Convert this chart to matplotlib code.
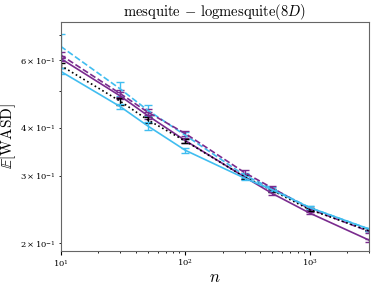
import matplotlib
matplotlib.use("Agg")
import matplotlib.pyplot as plt

plt.rcParams['font.family'] = 'serif'
plt.rcParams['font.serif'] = ['DejaVu Serif']
plt.rcParams['mathtext.fontset'] = 'cm'

n = [10, 30, 50, 100, 300, 500, 1000, 3000]

cyan_dashed = [0.653, 0.506, 0.445, 0.383, 0.301, 0.278, 0.248, 0.218]
cyan_dashed_err = [0.05, 0.02, 0.014, 0.008, 0.004, 0.003, 0.002, 0.002]
purple_dashed = [0.620, 0.492, 0.440, 0.387, 0.306, 0.279, 0.246, 0.215]
purple_dashed_err = [0.012, 0.010, 0.008, 0.006, 0.004, 0.003, 0.002, 0.002]
purple_solid = [0.607, 0.485, 0.431, 0.371, 0.298, 0.270, 0.240, 0.204]
purple_solid_err = [0.010, 0.010, 0.008, 0.006, 0.003, 0.003, 0.002, 0.002]
black_dotted = [0.582, 0.470, 0.420, 0.370, 0.298, 0.275, 0.245, 0.216]
black_dotted_err = [0.008, 0.010, 0.008, 0.005, 0.003, 0.002, 0.002, 0.001]
cyan_solid = [0.562, 0.455, 0.405, 0.350, 0.296, 0.276, 0.248, 0.218]
cyan_solid_err = [0.010, 0.008, 0.010, 0.005, 0.003, 0.002, 0.002, 0.002]

cyan = '#40bdf0'
purple = '#7a2b8e'

fig = plt.figure(figsize=(3.74, 2.87), dpi=100)
ax = fig.add_axes([0.162, 0.125, 0.825, 0.798])

kw = dict(capsize=3, elinewidth=1, lw=1.2)
ax.errorbar(n, cyan_dashed, yerr=cyan_dashed_err, color=cyan, ls='--', **kw)
ax.errorbar(n, purple_dashed, yerr=purple_dashed_err, color=purple, ls='--', **kw)
ax.errorbar(n, purple_solid, yerr=purple_solid_err, color=purple, ls='-', **kw)
ax.errorbar(n, black_dotted, yerr=black_dotted_err, color='k', ls=':', **kw)
ax.errorbar(n, cyan_solid, yerr=cyan_solid_err, color=cyan, ls='-', **kw)

ax.set_xscale('log')
ax.set_yscale('log')
ax.set_xlim(10, 3000)
ax.set_ylim(0.191, 0.755)
ax.tick_params(which='major', length=3, pad=2, labelsize=6)
ax.tick_params(which='minor', length=1.5, pad=2, labelsize=6)
ax.set_xlabel(r'$n$', fontsize=12, labelpad=0)
ax.set_ylabel(r'$\mathbb{E}[\mathrm{WASD}]$', fontsize=11, labelpad=1)
ax.set_title(r'$\mathrm{mesquite}\,-\,\mathrm{logmesquite}(8D)$', fontsize=10.5, pad=4)
for s in ax.spines.values():
    s.set_color('0.4')

fig.savefig('out.png', dpi=100)
